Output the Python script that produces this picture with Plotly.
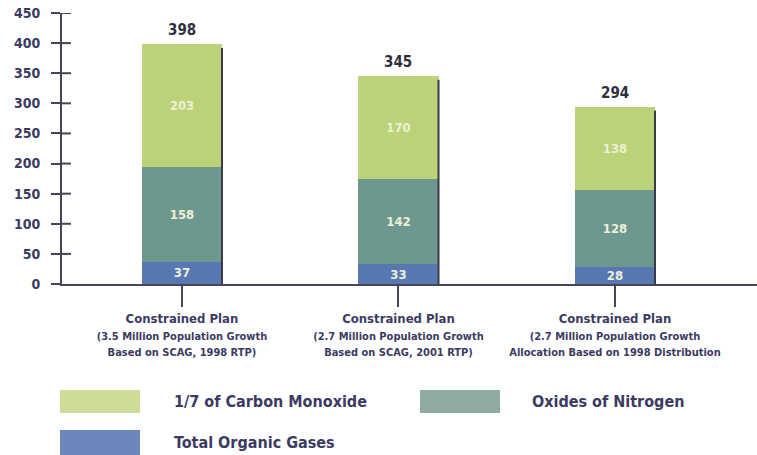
import plotly.graph_objects as go

# Emissions by plan (tons per day), stacked bottom to top
plans = ["Plan A", "Plan B", "Plan C"]
plan_labels = [
    ["Constrained Plan", "(3.5 Million Population Growth", "Based on SCAG, 1998 RTP)"],
    ["Constrained Plan", "(2.7 Million Population Growth", "Based on SCAG, 2001 RTP)"],
    ["Constrained Plan", "(2.7 Million Population Growth", "Allocation Based on 1998 Distribution"],
]
tog = [37, 33, 28]
nox = [158, 142, 128]
co7 = [203, 170, 138]
totals = [a + b + c for a, b, c in zip(tog, nox, co7)]

series_names = ["1/7 of Carbon Monoxide", "Oxides of Nitrogen", "Total Organic Gases"]
y_ticks = [0, 50, 100, 150, 200, 250, 300, 350, 400, 450]

C_TOG = "#5878b4"
C_NOX = "#6d988f"
C_CO = "#bcd279"
LEG_TOG = "#6a86ba"
LEG_NOX = "#8fa9a3"
LEG_CO = "#cddc97"
NAVY = "#3b3b62"
AXIS = "#45455a"
FONT = "Liberation Sans Narrow, DejaVu Sans Condensed, Arial Narrow, sans-serif"

W, H = 757, 455
ML, MR, MT, MB = 62, 0, 13, 171
PW, PH = W - ML - MR, H - MT - MB
BAR_W = 0.37


def px_x(p):
    return (p - ML) / PW


def px_y(p):
    return (H - MB - p) / PH


fig = go.Figure()
for vals, col in [(tog, C_TOG), (nox, C_NOX), (co7, C_CO)]:
    fig.add_trace(go.Bar(
        x=plans, y=vals, width=BAR_W, marker=dict(color=col, line=dict(width=0)),
        text=[str(v) for v in vals], textposition="inside", insidetextanchor="middle",
        constraintext="none", textangle=0,
        textfont=dict(family=FONT, size=13, color="#eef0d6"), texttemplate="<b>%{text}</b>",
        showlegend=False, hoverinfo="skip",
    ))

shapes = []
annotations = []

# totals above each stack
for p, t in zip(plans, totals):
    annotations.append(dict(xref="x", yref="y", x=p, y=t, text=f"<b>{t}</b>",
                            showarrow=False, yanchor="middle", yshift=14,
                            font=dict(family=FONT, size=15, color="#2f2f3e")))

# dark edge along the right side of each stack
for i, t in enumerate(totals):
    shapes.append(dict(type="line", xref="x", yref="y",
                       x0=i + BAR_W / 2, x1=i + BAR_W / 2, y0=0, y1=t - 6,
                       line=dict(color="#3a3a48", width=2)))

# short tick stubs on the inner side of the value axis
for v in y_ticks[1:]:
    shapes.append(dict(type="line", xref="paper", yref="y",
                       x0=0, x1=px_x(ML + 9), y0=v, y1=v,
                       line=dict(color=AXIS, width=2)))

# legend swatches and labels
legend_items = [
    (series_names[0], LEG_CO, 60, 140, 390, 413, 172),
    (series_names[1], LEG_NOX, 420, 500, 390, 413, 530),
    (series_names[2], LEG_TOG, 60, 140, 430, 455, 172),
]
for name, col, x0, x1, y0, y1, tx in legend_items:
    shapes.append(dict(type="rect", xref="paper", yref="paper",
                       x0=px_x(x0), x1=px_x(x1), y0=px_y(y1), y1=px_y(y0),
                       fillcolor=col, line=dict(width=0)))
    annotations.append(dict(xref="paper", yref="paper", x=px_x(tx), y=px_y((y0 + y1) / 2),
                            text=f"<b>{name}</b>", showarrow=False, xanchor="left",
                            yanchor="middle", font=dict(family=FONT, size=16, color=NAVY)))

ticktext = [
    f"<b>{a}</b><br><span style='font-size:11px'><b>{b}</b></span>"
    f"<br><span style='font-size:11px'><b>{c}</b></span>"
    for a, b, c in plan_labels
]

fig.update_layout(
    barmode="stack", width=W, height=H,
    margin=dict(l=ML, r=MR, t=MT, b=MB),
    paper_bgcolor="white", plot_bgcolor="white",
    shapes=shapes, annotations=annotations,
    xaxis=dict(type="category", range=[-0.554, 2.656], showgrid=False, zeroline=False,
               showline=True, linecolor=AXIS, linewidth=2,
               ticks="outside", ticklen=21, tickwidth=2, tickcolor=AXIS,
               tickvals=plans, ticktext=ticktext,
               tickfont=dict(family=FONT, size=13, color=NAVY)),
    yaxis=dict(range=[0, 450], tickvals=y_ticks, showgrid=False, zeroline=False,
               showline=True, linecolor=AXIS, linewidth=2,
               ticks="outside", ticklen=9, tickwidth=2, tickcolor=AXIS,
               ticklabelstandoff=8,
               tickfont=dict(family=FONT, size=14, color=NAVY, weight="bold")),
    font=dict(family=FONT),
)

fig.write_html("out.html")
